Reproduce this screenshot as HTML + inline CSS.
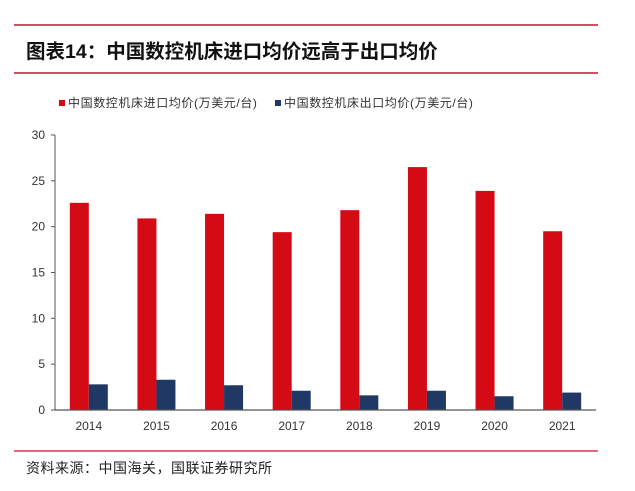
<!DOCTYPE html>
<html><head><meta charset="utf-8"><style>
body{margin:0;background:#fff;width:635px;height:486px;overflow:hidden;font-family:"Liberation Sans","Noto Sans CJK SC",sans-serif;}
</style></head><body>
<svg width="635" height="486" xmlns="http://www.w3.org/2000/svg">
<line x1="14" y1="25" x2="598" y2="25" stroke="#c8102e" stroke-width="1.5"/>
<text x="26" y="58" font-size="19.5" font-weight="bold" fill="#111">图表14：中国数控机床进口均价远高于出口均价</text>
<line x1="14" y1="73" x2="598" y2="73" stroke="#c8102e" stroke-width="1.5"/>
<g font-size="12" fill="#333" letter-spacing="0.6">
<rect x="59" y="100" width="6" height="6" fill="#d40a14"/>
<text x="68" y="107">中国数控机床进口均价(万美元/台)</text>
<rect x="275" y="100" width="6" height="6" fill="#203864"/>
<text x="284" y="107">中国数控机床出口均价(万美元/台)</text>
</g>
<g id="plot"></g>
<line x1="14" y1="451" x2="598" y2="451" stroke="#c8102e" stroke-width="1.2"/>
<text x="26" y="473" font-size="14" fill="#222" letter-spacing="0.5">资料来源：中国海关，国联证券研究所</text>
</svg>
<script>
const categories=["2014","2015","2016","2017","2018","2019","2020","2021"];
const importVals=[22.6,20.9,21.4,19.4,21.8,26.5,23.9,19.5];
const exportVals=[2.8,3.3,2.7,2.1,1.6,2.1,1.5,1.9];
const yTicks=[0,5,10,15,20,25,30];
const NS="http://www.w3.org/2000/svg";
const g=document.getElementById('plot');
const x0=55,x1=596,y0=410,y1=135,ymax=30;
const yS=v=>y0-(v/ymax)*(y0-y1);
const bw=(x1-x0)/categories.length;
function mk(t,a){const e=document.createElementNS(NS,t);for(const k in a)e.setAttribute(k,a[k]);g.appendChild(e);return e;}
let ax=mk('line',{x1:x0,y1:y1,x2:x0,y2:y0,stroke:'#555','stroke-width':1});


yTicks.forEach(v=>{
 let t=mk('line',{x1:x0-4,x2:x0,y1:yS(v),y2:yS(v),stroke:'#555'});
 
 
 let l=mk('text',{x:x0-10,y:yS(v)+4,'font-size':12,fill:'#333','text-anchor':'end'});
 l.textContent=v;
 
 
});
const barW=19;
categories.forEach((c,i)=>{
 const cx=x0+bw*(i+0.5);
 let r=mk('rect',{x:cx-barW,y:yS(importVals[i]),width:barW,height:y0-yS(importVals[i]),fill:'#d40a14'});
 
 
 let b=mk('rect',{x:cx,y:yS(exportVals[i]),width:barW,height:y0-yS(exportVals[i]),fill:'#203864'});
 
 
 let l=mk('text',{x:cx,y:y0+20,'font-size':12,fill:'#333','text-anchor':'middle'});
 l.textContent=c;
 
 
});
let xa=mk('line',{x1:x0,y1:y0,x2:x1,y2:y0,stroke:'#555','stroke-width':1.2});


</script>
</body></html>
